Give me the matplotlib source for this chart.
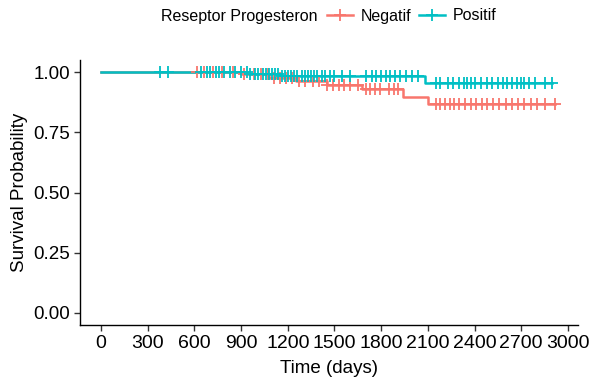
import matplotlib
matplotlib.use("Agg")
import matplotlib.pyplot as plt
from matplotlib.lines import Line2D
import numpy as np

plt.rcParams['font.family'] = ['Liberation Sans', 'DejaVu Sans']

# Kaplan-Meier step data
neg_times = [0, 900, 1080, 1250, 1450, 1680, 1940, 2100]
neg_surv = [1.0, 0.99, 0.977, 0.962, 0.946, 0.928, 0.897, 0.866]
neg_end = 2920
neg_censor = [620, 660, 720, 780, 850, 920, 980, 1030, 1070, 1110, 1150, 1190,
              1230, 1270, 1310, 1360, 1400, 1450, 1490, 1530, 1560, 1600, 1650,
              1700, 1730, 1760, 1790, 1850, 1880, 1910, 2150, 2180, 2210, 2240,
              2270, 2300, 2340, 2380, 2410, 2450, 2480, 2520, 2560, 2600, 2640,
              2680, 2720, 2760, 2800, 2850, 2920]

pos_times = [0, 950, 1150, 2080]
pos_surv = [1.0, 0.99, 0.982, 0.955]
pos_end = 2900
pos_censor = [380, 430, 640, 680, 700, 740, 760, 790, 830, 860, 900, 940, 960,
              990, 1010, 1040, 1060, 1080, 1100, 1120, 1140, 1160, 1180, 1200,
              1220, 1240, 1260, 1290, 1310, 1330, 1350, 1370, 1390, 1420, 1440,
              1470, 1500, 1550, 1600, 1700, 1740, 1770, 1800, 1830, 1860, 1890,
              1920, 1960, 2000, 2040, 2150, 2180, 2230, 2260, 2300, 2330, 2350,
              2380, 2400, 2440, 2480, 2510, 2550, 2580, 2610, 2640, 2670, 2700,
              2720, 2750, 2790, 2850, 2900]

groups = ["Negatif", "Positif"]
legend_title = "Reseptor Progesteron"
x_ticks = [0, 300, 600, 900, 1200, 1500, 1800, 2100, 2400, 2700, 3000]
y_ticks = [0.00, 0.25, 0.50, 0.75, 1.00]
colors = ["#F8766D", "#00BFC4"]

fig = plt.figure(figsize=(5.89, 3.79), dpi=100)
ax = fig.add_axes([80/589, 1-325/379, (578-80)/589, (325-60)/379])


def surv_at(times, surv, t):
    idx = np.searchsorted(times, t, side='right') - 1
    return surv[idx]


for times, surv, end, cens, col in [(neg_times, neg_surv, neg_end, neg_censor, colors[0]),
                                     (pos_times, pos_surv, pos_end, pos_censor, colors[1])]:
    xs = list(times) + [end]
    ys = list(surv) + [surv[-1]]
    ax.step(xs, ys, where='post', color=col, lw=1.8, zorder=3)
    cy = [surv_at(times, surv, c) for c in cens]
    ax.plot(cens, cy, linestyle='none', marker='+', markersize=9, mew=1.3,
            color=col, zorder=4)

ax.set_xlim(-135, 3065)
ax.set_ylim(-0.05, 1.05)
ax.set_xticks(x_ticks)
ax.set_xticklabels([str(v) for v in x_ticks], fontsize=14)
ax.set_yticks(y_ticks)
ax.set_yticklabels([f"{v:.2f}" for v in y_ticks], fontsize=13.5)
ax.tick_params(axis='both', length=4, width=1, color='#333333',
               labelcolor='black', direction='out', pad=3)
for s in ['top', 'right']:
    ax.spines[s].set_visible(False)
for s in ['left', 'bottom']:
    ax.spines[s].set_linewidth(1.0)
    ax.spines[s].set_color('black')
ax.set_xlabel("Time (days)", fontsize=13.5, labelpad=6)
ax.set_ylabel("Survival Probability", fontsize=13.5, labelpad=4)

# Legend (title inline)
fig.text(161/589, 1-16/379, legend_title, fontsize=11.5, va='center', ha='left')
handles = [Line2D([], [], color=colors[i], lw=1.8, marker='+', markersize=9, mew=1.3)
           for i in range(2)]
fig.legend(handles, groups, loc='center left', bbox_to_anchor=(327/589, 1-16/379),
           ncol=2, frameon=False, fontsize=11.5, handlelength=1.6, handletextpad=0.5,
           columnspacing=0.5, borderaxespad=0, borderpad=0)

fig.savefig("out.png", dpi=100)
